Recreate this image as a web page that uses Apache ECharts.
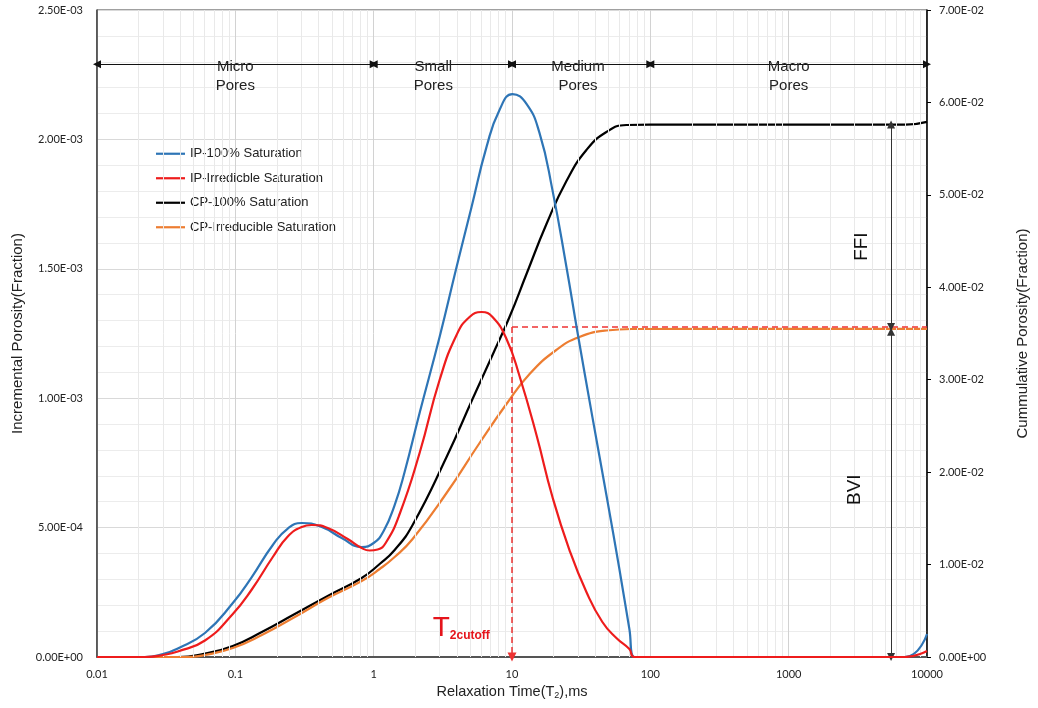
<!DOCTYPE html>
<html>
<head>
<meta charset="utf-8">
<script src="https://cdn.jsdelivr.net/npm/echarts@6/dist/echarts.min.js"></script>
<style>html,body{margin:0;padding:0;background:#fff}#c{width:1038px;height:708px}</style>
</head>
<body>
<div id="c"></div>
<script>
// ---------- data ----------
const xTickLabels = ['0.01', '0.1', '1', '10', '100', '1000', '10000'];

const ip100T2 = [0.01, 0.0222, 0.03, 0.0384, 0.0603, 0.0959, 0.1315, 0.1866, 0.2394, 0.302, 0.4213, 0.5875, 0.8191, 1.0, 1.181, 1.418, 1.674, 2.148, 2.996, 3.975, 5.101, 6.546, 8.123, 10.08, 12.73, 15.80, 19.61, 24.75, 29.72, 38.13, 48.13, 59.74, 70.55, 76.66, 1000, 6900, 10000];
const ip100 = [0, 0, 1.16e-5, 3.28e-5, 9.27e-5, 2.087e-4, 3.091e-4, 4.328e-4, 4.965e-4, 5.178e-4, 5.023e-4, 4.598e-4, 4.25e-4, 4.405e-4, 4.869e-4, 5.873e-4, 7.148e-4, 9.428e-4, 1.2365e-3, 1.507e-3, 1.739e-3, 1.971e-3, 2.114e-3, 2.175e-3, 2.137e-3, 2.025e-3, 1.804e-3, 1.507e-3, 1.256e-3, 9.27e-4, 6.26e-4, 3.40e-4, 1.08e-4, 0, 0, 0, 8.9e-5];

const ipIrrT2 = [0.01, 0.0222, 0.03, 0.0384, 0.0603, 0.0959, 0.1315, 0.1866, 0.2394, 0.302, 0.3567, 0.4655, 0.6491, 0.8191, 0.9357, 1.069, 1.221, 1.541, 2.148, 2.996, 3.975, 4.933, 6.024, 7.232, 9.127, 11.33, 15.03, 19.61, 26.02, 34.51, 45.01, 56.82, 70.55, 76.66, 1000, 6900, 10000];
const ipIrr = [0, 0, 7.7e-6, 2.13e-5, 6.38e-5, 1.662e-4, 2.608e-4, 3.864e-4, 4.656e-4, 5.023e-4, 5.1e-4, 4.985e-4, 4.56e-4, 4.212e-4, 4.115e-4, 4.154e-4, 4.405e-4, 5.526e-4, 7.883e-4, 1.0703e-3, 1.2442e-3, 1.3138e-3, 1.3331e-3, 1.3138e-3, 1.2287e-3, 1.0858e-3, 8.578e-4, 6.182e-4, 4.134e-4, 2.512e-4, 1.352e-4, 7.34e-5, 3.09e-5, 0, 0, 0, 2.3e-5];

const cp100T2 = [0.01, 0.0384, 0.0603, 0.0959, 0.1554, 0.269, 0.4655, 0.8191, 1.105, 1.418, 1.912, 3.365, 5.185, 7.232, 9.592, 12.73, 17.75, 24.75, 34.51, 48.13, 67.09, 100, 1000, 7000, 10000];
const cp100 = [0, 0, 3.79e-4, 1.19e-3, 2.705e-3, 4.652e-3, 6.6e-3, 8.547e-3, 1.0062e-2, 1.1576e-2, 1.4281e-2, 2.1638e-2, 2.7913e-2, 3.2674e-2, 3.6785e-2, 4.1437e-2, 4.6846e-2, 5.1498e-2, 5.4853e-2, 5.680e-2, 5.756e-2, 5.76e-2, 5.76e-2, 5.76e-2, 5.79e-2];

const cpIrrT2 = [0.01, 0.045, 0.0603, 0.0959, 0.1554, 0.269, 0.4655, 0.8191, 1.105, 1.418, 1.912, 3.365, 5.83, 9.12, 13.4, 20.9, 30.7, 48.13, 74.1, 1000, 10000];
const cpIrr = [0, 0, 2.16e-4, 9.74e-4, 2.38e-3, 4.328e-3, 6.383e-3, 8.222e-3, 9.521e-3, 1.0819e-2, 1.2767e-2, 1.7743e-2, 2.3153e-2, 2.7372e-2, 3.0618e-2, 3.3214e-2, 3.4621e-2, 3.5324e-2, 3.5486e-2, 3.55e-2, 3.55e-2];

const seriesNames = ['IP-100% Saturation', 'IP-Irredicble Saturation', 'CP-100% Saturation', 'CP-Irreducible Saturation'];
const seriesColors = ['#2e75b6', '#ee1c1c', '#000000', '#ed7d31'];

const poreNames = ['Micro\nPores', 'Small\nPores', 'Medium\nPores', 'Macro\nPores'];
const poreBounds = [0.01, 1, 10, 100, 10000];
const poreLabelT2 = [0.1, 2.7, 30, 1000];
const poreArrowLevel = 2.29e-3;   // left axis
const poreLabelLevel = 2.245e-3;  // left axis

const t2Cutoff = 10;
const cutoffLevel = 3.57e-2;      // right axis (BVI top)
const ffiTop = 5.76e-2;           // right axis
const bviArrowLevel = 3.52e-2;
const ffiBviT2 = 5500;
const ffiLabel = {t2: 3400, v: 4.44e-2, text: 'FFI'};
const bviLabel = {t2: 3000, v: 1.81e-2, text: 'BVI'};
const cutoffLabel = {t2: 4.3, v: 1.12e-4};

// ---------- helpers ----------
const SANS = '"Liberation Sans", Arial, sans-serif';
const TICKF = 'Lato, "Open Sans", sans-serif';
function pairs(xs, ys) { return xs.map((x, i) => [x, ys[i]]); }
function sci(v) {
  if (Math.abs(v) < 1e-15) return '0.00E+00';
  const s = Number(v).toExponential(2);
  const parts = s.split('e');
  const e = parseInt(parts[1], 10);
  const d = Math.abs(e);
  return parts[0] + 'E' + (e < 0 ? '-' : '+') + (d < 10 ? '0' + d : d);
}
const minorX = [];
for (let d = -2; d < 4; d++) for (let m = 2; m <= 9; m++) minorX.push(+(m * Math.pow(10, d)).toPrecision(3));

const hidden = {symbol: 'none', lineStyle: {opacity: 0}, silent: true, legendHoverLink: false, tooltip: {show: false}};
function textPoint(coord, text, style) {
  return {coord: coord, name: text, symbol: 'rect', symbolSize: 1, itemStyle: {color: 'rgba(0,0,0,0)'},
    label: Object.assign({show: true, position: 'inside', formatter: '{b}'}, style)};
}
function curve(i, data, axis, z) {
  return {type: 'line', name: seriesNames[i], data: data, yAxisIndex: axis, smooth: 0.5, smoothConstraint: false,
    symbol: 'none', color: seriesColors[i], lineStyle: {width: 2.2}, z: z, clip: true};
}

const chart = echarts.init(document.getElementById('c'), null, {renderer: 'canvas'});

const option = {
  animation: false,
  backgroundColor: '#ffffff',
  grid: {left: 97, right: 110, top: 10, bottom: 51, show: true, borderColor: '#404040', borderWidth: 1, backgroundColor: 'transparent'},
  legend: {
    data: seriesNames, orient: 'vertical', left: 156, top: 146, padding: 0, itemWidth: 29, itemHeight: 2.2, itemGap: 9,
    icon: 'rect', textStyle: {fontFamily: SANS, fontSize: 13, color: '#222', lineHeight: 15.5}
  },
  xAxis: {
    type: 'log', logBase: 10, min: 0.01, max: 10000,
    name: 'Relaxation Time(T{s|2}),ms', nameLocation: 'middle', nameGap: 27,
    nameTextStyle: {fontFamily: SANS, fontSize: 14.5, color: '#222', rich: {s: {fontFamily: SANS, fontSize: 9, color: '#222', padding: [6, 0, 0, 0]}}},
    axisLine: {lineStyle: {color: '#555', width: 2}},
    axisTick: {show: false},
    axisLabel: {margin: 12, color: '#222', fontSize: 11, fontFamily: TICKF,
      formatter: v => xTickLabels[Math.round(Math.log10(v)) + 2]},
    splitLine: {show: true, lineStyle: {color: '#d2d2d2', width: 1}}
  },
  yAxis: [{
    type: 'value', min: 0, max: 2.5e-3, interval: 5e-4,
    name: 'Incremental Porosity(Fraction)', nameLocation: 'middle', nameGap: 70,
    nameTextStyle: {fontFamily: SANS, fontSize: 15, color: '#222'},
    axisLine: {show: true, lineStyle: {color: '#404040', width: 1.5}},
    axisTick: {show: false},
    axisLabel: {margin: 14, color: '#222', fontSize: 11, fontFamily: TICKF, formatter: sci},
    splitLine: {show: true, lineStyle: {color: '#d9d9d9'}},
    minorTick: {show: false, splitNumber: 5},
    minorSplitLine: {show: true, lineStyle: {color: '#ececec'}}
  }, {
    type: 'value', min: 0, max: 0.07, interval: 0.01, position: 'right',
    name: 'Cummulative Porosity(Fraction)', nameLocation: 'middle', nameGap: 88,
    nameTextStyle: {fontFamily: SANS, fontSize: 15, color: '#222'},
    axisLine: {show: true, lineStyle: {color: '#000', width: 1.5}},
    axisTick: {show: true, length: 4, lineStyle: {color: '#000'}},
    axisLabel: {margin: 12, color: '#222', fontSize: 11, fontFamily: TICKF, formatter: sci},
    splitLine: {show: false}
  }],
  series: [
    // minor vertical grid lines (log axis 2..9)
    Object.assign({type: 'line', name: 'grid', data: [[0.01, 0]], z: 1,
      markLine: {silent: true, symbol: 'none', animation: false, label: {show: false},
        lineStyle: {color: '#e9e9e9', type: 'solid', width: 1}, emphasis: {disabled: true},
        data: minorX.map(v => ({xAxis: v}))}}, hidden),
    curve(0, pairs(ip100T2, ip100), 0, 5),
    curve(1, pairs(ipIrrT2, ipIrr), 0, 6),
    curve(2, pairs(cp100T2, cp100), 1, 4),
    curve(3, pairs(cpIrrT2, cpIrr), 1, 4),
    // pore-class arrows and labels, T2 cutoff label (left axis)
    Object.assign({type: 'line', name: 'pores', data: [[0.01, 0]], yAxisIndex: 0, z: 7,
      markLine: {silent: true, symbol: ['triangle', 'triangle'], symbolSize: 8, label: {show: false},
        lineStyle: {color: '#111', type: 'solid', width: 1}, emphasis: {disabled: true},
        data: poreNames.map((n, i) => [{coord: [poreBounds[i], poreArrowLevel]}, {coord: [poreBounds[i + 1], poreArrowLevel]}])},
      markPoint: {silent: true, data: poreNames.map((n, i) => textPoint([poreLabelT2[i], poreLabelLevel], n,
        {fontFamily: SANS, fontSize: 15, lineHeight: 19, color: '#222', align: 'center'}))
        .concat([textPoint([cutoffLabel.t2, cutoffLabel.v], 'x', {
          formatter: '{t|T}{s|2cutoff}',
          rich: {t: {fontFamily: SANS, fontSize: 28, color: '#e5141b', verticalAlign: 'bottom', lineHeight: 28},
                 s: {fontFamily: SANS, fontSize: 12, fontWeight: 'bold', color: '#e5141b', verticalAlign: 'bottom', lineHeight: 20}}})])}}, hidden),
    // cutoff, FFI and BVI annotations (right axis)
    Object.assign({type: 'line', name: 'cutoff', data: [[0.01, 0]], yAxisIndex: 1, z: 7,
      markLine: {silent: true, label: {show: false}, emphasis: {disabled: true},
        data: [
          [{coord: [t2Cutoff, cutoffLevel], symbol: 'none', lineStyle: {color: '#ee3333', type: [6, 4], width: 1.5}},
           {coord: [10000, cutoffLevel], symbol: 'none'}],
          [{coord: [t2Cutoff, cutoffLevel], symbol: 'none', lineStyle: {color: '#ee3333', type: [6, 4], width: 1.5}},
           {coord: [t2Cutoff, 0], symbol: 'triangle', symbolSize: 9}],
          [{coord: [ffiBviT2, ffiTop], symbol: 'triangle', symbolSize: 8, lineStyle: {color: '#333', type: 'solid', width: 1}},
           {coord: [ffiBviT2, cutoffLevel], symbol: 'triangle', symbolSize: 8}],
          [{coord: [ffiBviT2, bviArrowLevel], symbol: 'triangle', symbolSize: 8, lineStyle: {color: '#333', type: 'solid', width: 1}},
           {coord: [ffiBviT2, 0], symbol: 'triangle', symbolSize: 8}]
        ]},
      markPoint: {silent: true, data: [
        textPoint([ffiLabel.t2, ffiLabel.v], ffiLabel.text, {fontFamily: SANS, fontSize: 19, color: '#111', rotate: 90}),
        textPoint([bviLabel.t2, bviLabel.v], bviLabel.text, {fontFamily: SANS, fontSize: 19, color: '#111', rotate: 90})
      ]}}, hidden)
  ]
};
chart.setOption(option);
</script>
</body>
</html>
